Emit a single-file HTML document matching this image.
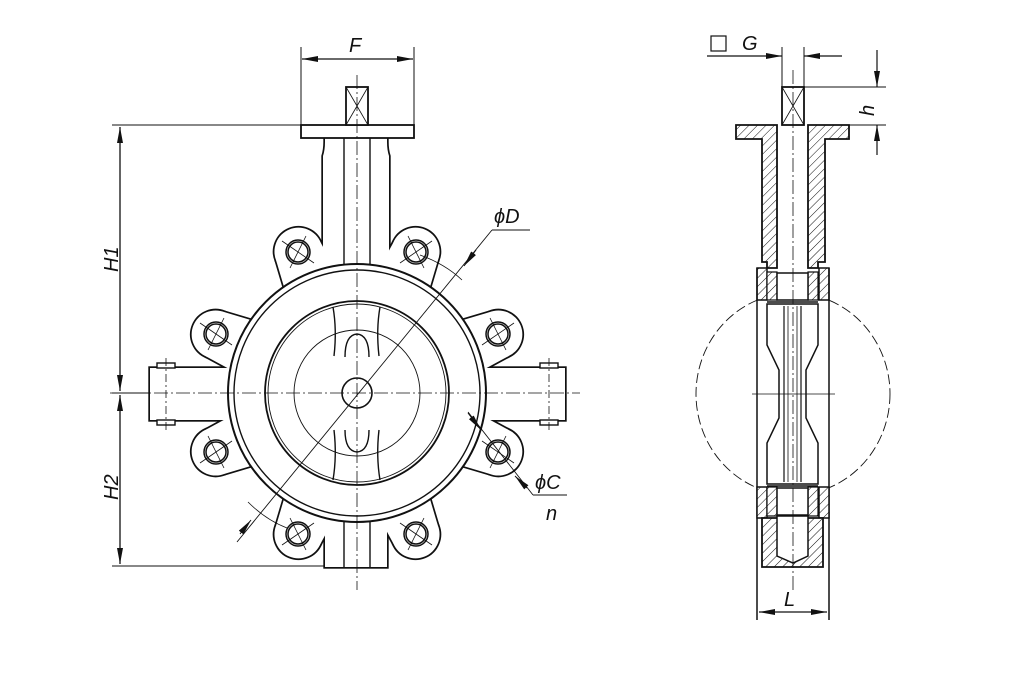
<!DOCTYPE html>
<html><head><meta charset="utf-8"><style>
html,body{margin:0;padding:0;background:#fff}
svg{display:block}
text{font-family:"Liberation Sans",sans-serif;font-style:italic;font-size:20px;fill:#111}
</style></head><body>
<svg width="1022" height="694" viewBox="0 0 1022 694" xmlns="http://www.w3.org/2000/svg">
<defs>
<pattern id="h" patternUnits="userSpaceOnUse" width="6" height="6" patternTransform="rotate(45)">
<rect width="6" height="6" fill="#fff"/><line x1="0" y1="0" x2="0" y2="6" stroke="#111" stroke-width="1"/></pattern>
<marker id="a" viewBox="0 0 16 6" refX="16" refY="3" markerWidth="16" markerHeight="6" orient="auto-start-reverse" markerUnits="userSpaceOnUse"><path d="M0,0 L16,3 L0,6z" fill="#111"/></marker>
<g id="ears">
<g transform="rotate(-67.5 357 393)"><circle cx="510" cy="393" r="24"/><path d="M510,369 L357,353 L357,433 L510,417z"/></g>
<g transform="rotate(-112.5 357 393)"><circle cx="510" cy="393" r="24"/><path d="M510,369 L357,353 L357,433 L510,417z"/></g>
<g transform="rotate(-22.5 357 393)"><circle cx="510" cy="393" r="24"/><path d="M510,369 L357,353 L357,433 L510,417z"/></g>
<g transform="rotate(22.5 357 393)"><circle cx="510" cy="393" r="24"/><path d="M510,369 L357,353 L357,433 L510,417z"/></g>
<g transform="rotate(67.5 357 393)"><circle cx="510" cy="393" r="24"/><path d="M510,369 L357,353 L357,433 L510,417z"/></g>
<g transform="rotate(112.5 357 393)"><circle cx="510" cy="393" r="24"/><path d="M510,369 L357,353 L357,433 L510,417z"/></g>
<g transform="rotate(157.5 357 393)"><circle cx="510" cy="393" r="24"/><path d="M510,369 L357,353 L357,433 L510,417z"/></g>
<g transform="rotate(-157.5 357 393)"><circle cx="510" cy="393" r="24"/><path d="M510,369 L357,353 L357,433 L510,417z"/></g>
<rect x="150" y="368" width="100" height="52"/>
<rect x="465" y="368" width="100" height="52"/>
<path d="M325,138 h62 v4 q0,8 2,14 v160 h-66 v-160 q2,-6 2,-14z"/>
<rect x="325" y="470" width="62" height="97"/>
</g>
</defs>

<g stroke="#111" fill="none">
<line x1="112" y1="125" x2="301" y2="125" stroke-width="1"/>
<line x1="112" y1="393" x2="150" y2="393" stroke-width="1"/>
<line x1="112" y1="566" x2="325" y2="566" stroke-width="1"/>
<line x1="120" y1="127" x2="120" y2="391" stroke-width="1.3" marker-start="url(#a)" marker-end="url(#a)"/>
<line x1="120" y1="395" x2="120" y2="564" stroke-width="1.3" marker-start="url(#a)" marker-end="url(#a)"/>
<line x1="301" y1="47" x2="301" y2="125" stroke-width="1"/>
<line x1="414" y1="47" x2="414" y2="125" stroke-width="1"/>
<line x1="302" y1="59" x2="413" y2="59" stroke-width="1.3" marker-start="url(#a)" marker-end="url(#a)"/>
</g>
<text x="349" y="52">F</text>
<text transform="translate(118,272) rotate(-90)">H1</text>
<text transform="translate(118,500) rotate(-90)">H2</text>

<use href="#ears" stroke="#111" stroke-width="3.4" fill="#fff"/>
<use href="#ears" fill="#fff" stroke="none"/>
<g stroke="#111" fill="none">
<rect x="157" y="363" width="18" height="5" stroke-width="1.4" fill="#fff"/>
<rect x="157" y="420" width="18" height="5" stroke-width="1.4" fill="#fff"/>
<rect x="540" y="363" width="18" height="5" stroke-width="1.4" fill="#fff"/>
<rect x="540" y="420" width="18" height="5" stroke-width="1.4" fill="#fff"/>
<line x1="166" y1="358" x2="166" y2="430" stroke-width="0.8" stroke-dasharray="8,3,2,3"/>
<line x1="549" y1="358" x2="549" y2="430" stroke-width="0.8" stroke-dasharray="8,3,2,3"/>
<rect x="301" y="125" width="113" height="13" stroke-width="1.8" fill="#fff"/>
<rect x="346" y="87" width="22" height="38" stroke-width="1.8" fill="#fff"/>
<path d="M346,87 L368,125 M368,87 L346,125" stroke-width="0.8"/>
<line x1="344" y1="138" x2="344" y2="270" stroke-width="1.4"/>
<line x1="370" y1="138" x2="370" y2="270" stroke-width="1.4"/>
<line x1="344" y1="520" x2="344" y2="567" stroke-width="1.4"/>
<line x1="370" y1="520" x2="370" y2="567" stroke-width="1.4"/>
<circle cx="357" cy="393" r="129" stroke-width="2" fill="#fff"/>
<circle cx="357" cy="393" r="123" stroke-width="1.4"/>
<circle cx="357" cy="393" r="92" stroke-width="1.8"/>
<circle cx="357" cy="393" r="89" stroke-width="0.9"/>
<circle cx="357" cy="393" r="63" stroke-width="0.9"/>
<circle cx="357" cy="393" r="15" stroke-width="1.6" fill="#fff"/>
<path d="M333,307 Q337,330 334,356 M380,307 Q376,330 379,356" stroke-width="1.4"/>
<path d="M334,430 Q337,456 333,480 M379,430 Q376,456 380,480" stroke-width="1.4"/>
<path d="M345,357 Q345,335 357,334 Q369,335 369,357" stroke-width="1.4"/>
<path d="M345,430 Q345,451 357,452 Q369,451 369,430" stroke-width="1.4"/>
<g stroke-width="1.5">
<circle cx="298" cy="252" r="12"/><circle cx="298" cy="252" r="10"/>
<circle cx="416" cy="252" r="12"/><circle cx="416" cy="252" r="10"/>
<circle cx="216" cy="334" r="12"/><circle cx="216" cy="334" r="10"/>
<circle cx="498" cy="334" r="12"/><circle cx="498" cy="334" r="10"/>
<circle cx="216" cy="452" r="12"/><circle cx="216" cy="452" r="10"/>
<circle cx="498" cy="452" r="12"/><circle cx="498" cy="452" r="10"/>
<circle cx="298" cy="534" r="12"/><circle cx="298" cy="534" r="10"/>
<circle cx="416" cy="534" r="12"/><circle cx="416" cy="534" r="10"/>
</g>
<g stroke-width="0.8">
<path d="M282,241 L314,263 M290,268 L306,236"/>
<path d="M400,263 L432,241 M408,236 L424,268"/>
<path d="M200,323 L232,345 M208,350 L224,318"/>
<path d="M482,345 L514,323 M490,318 L506,350"/>
<path d="M200,463 L232,441 M208,436 L224,468"/>
<path d="M482,441 L514,463 M490,468 L506,436"/>
<path d="M282,545 L314,523 M290,518 L306,550"/>
<path d="M400,523 L432,545 M408,550 L424,518"/>
</g>
<line x1="357" y1="75" x2="357" y2="590" stroke-width="0.8" stroke-dasharray="14,3,2,3"/>
<line x1="110" y1="393" x2="580" y2="393" stroke-width="0.8" stroke-dasharray="14,3,2,3"/>
<line x1="237" y1="542" x2="492" y2="230" stroke-width="0.9"/>
<line x1="492" y1="230" x2="530" y2="230" stroke-width="0.9"/>
<line x1="476" y1="250" x2="464" y2="266" stroke-width="1" marker-end="url(#a)"/>
<line x1="240" y1="534" x2="251" y2="520" stroke-width="1" marker-end="url(#a)"/>
<path d="M420,255 Q445,264 462,280" stroke-width="0.8"/>
<path d="M248,502 Q266,520 287,528" stroke-width="0.8"/>
<line x1="468" y1="412" x2="533" y2="495" stroke-width="0.9"/>
<line x1="533" y1="495" x2="567" y2="495" stroke-width="0.9"/>
<line x1="468" y1="413" x2="481" y2="430" stroke-width="1" marker-end="url(#a)"/>
<line x1="527" y1="488" x2="515" y2="476" stroke-width="1" marker-end="url(#a)"/>
</g>
<text x="494" y="223">ϕD</text>
<text x="535" y="489">ϕC</text>
<text x="546" y="520">n</text>

<g stroke="#111" fill="none">
<ellipse cx="793" cy="394" rx="97" ry="101" stroke-width="0.9" stroke-dasharray="10,4"/>
<rect x="757" y="268" width="72" height="250" fill="#fff" stroke="none"/>
<line x1="782" y1="47" x2="782" y2="87" stroke-width="1"/>
<line x1="804" y1="47" x2="804" y2="87" stroke-width="1"/>
<line x1="707" y1="56" x2="782" y2="56" stroke-width="1.2" marker-end="url(#a)"/>
<line x1="842" y1="56" x2="804" y2="56" stroke-width="1.2" marker-end="url(#a)"/>
<line x1="804" y1="87" x2="886" y2="87" stroke-width="1"/>
<line x1="849" y1="125" x2="886" y2="125" stroke-width="1"/>
<line x1="877" y1="50" x2="877" y2="87" stroke-width="1.2" marker-end="url(#a)"/>
<line x1="877" y1="155" x2="877" y2="125" stroke-width="1.2" marker-end="url(#a)"/>
<rect x="711" y="36" width="15" height="15" stroke-width="1.2"/>
<rect x="782" y="87" width="22" height="38" stroke-width="1.8" fill="#fff"/>
<path d="M782,87 L804,125 M804,87 L782,125" stroke-width="0.8"/>
<path d="M736,125 H777 V268 H767 V262 H762 V139 H736z" fill="url(#h)" stroke-width="1.8"/>
<path d="M849,125 H808 V268 H818 V262 H825 V139 H849z" fill="url(#h)" stroke-width="1.8"/>
<path d="M757,268 H767 V300 H757z" fill="url(#h)" stroke-width="1.5"/>
<path d="M819,268 H829 V300 H819z" fill="url(#h)" stroke-width="1.5"/>
<path d="M767,272 H777 V300 H767z M808,272 H818 V300 H808z" fill="url(#h)" stroke-width="1.2"/>
<rect x="777" y="273" width="31" height="27" stroke-width="1.5" fill="#fff"/>
<line x1="767" y1="302" x2="818" y2="302" stroke-width="1.5"/>
<line x1="757" y1="268" x2="757" y2="620" stroke-width="1.5"/>
<line x1="829" y1="268" x2="829" y2="620" stroke-width="1.5"/>
<path d="M767,304 H818 V345 L806,370 V418 L818,443 V484 H767 V443 L779,418 V370 L767,345z" stroke-width="1.5" fill="#fff"/>
<line x1="784" y1="306" x2="784" y2="482" stroke-width="1.2"/>
<line x1="801" y1="306" x2="801" y2="482" stroke-width="1.2"/>
<line x1="788" y1="306" x2="788" y2="482" stroke-width="0.8"/>
<line x1="797" y1="306" x2="797" y2="482" stroke-width="0.8"/>
<path d="M757,487 H767 V518 H757z M819,487 H829 V518 H819z" fill="url(#h)" stroke-width="1.5"/>
<path d="M767,487 H777 V516 H767z M808,487 H818 V516 H808z" fill="url(#h)" stroke-width="1.2"/>
<rect x="777" y="488" width="31" height="27" stroke-width="1.5" fill="#fff"/>
<line x1="767" y1="486" x2="818" y2="486" stroke-width="1.5"/>
<path d="M762,518 H823 V567 H762z" fill="url(#h)" stroke-width="1.8"/>
<path d="M777,516 H808 V556 L793,563 L777,556z" fill="#fff" stroke-width="1.5"/>
<line x1="793" y1="70" x2="793" y2="592" stroke-width="0.8" stroke-dasharray="14,3,2,3"/>
<line x1="752" y1="394" x2="835" y2="394" stroke-width="0.8"/>
<line x1="759" y1="612" x2="827" y2="612" stroke-width="1.2" marker-start="url(#a)" marker-end="url(#a)"/>
</g>
<text x="742" y="50">G</text>
<text transform="translate(874,116) rotate(-90)">h</text>
<text x="784" y="606">L</text>
</svg>
</body></html>
